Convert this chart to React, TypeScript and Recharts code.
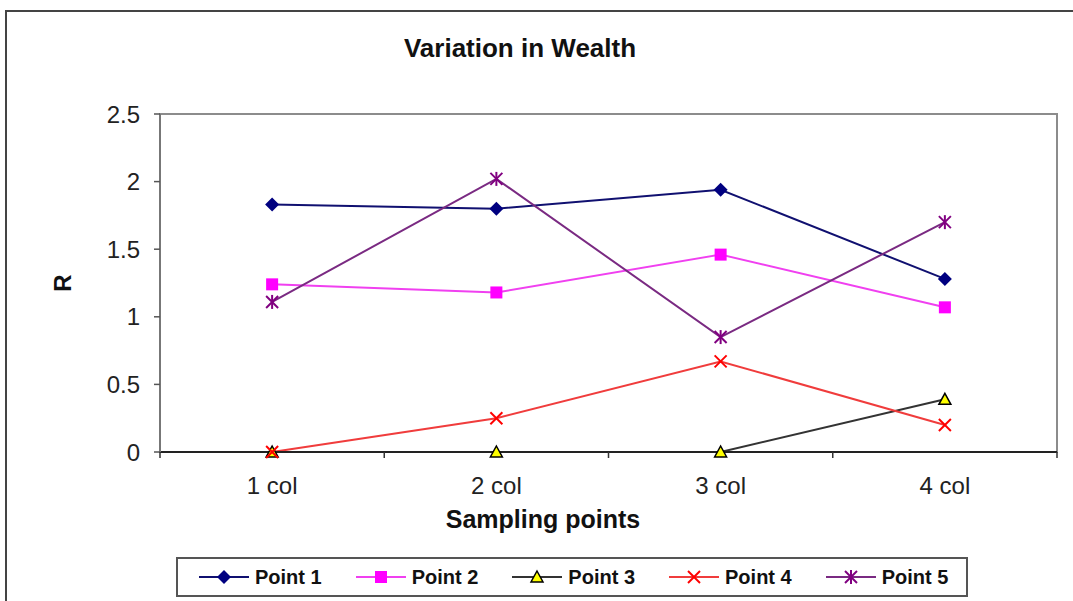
import React from "react";
import {
  LineChart,
  Line,
  XAxis,
  YAxis,
  ReferenceArea,
} from "recharts";

const categories = ["1 col", "2 col", "3 col", "4 col"];
const point1 = [1.83, 1.8, 1.94, 1.28];
const point2 = [1.24, 1.18, 1.46, 1.07];
const point3 = [0, 0, 0, 0.39];
const point4 = [0, 0.25, 0.67, 0.2];
const point5 = [1.11, 2.02, 0.85, 1.7];
const yTicks = [0, 0.5, 1, 1.5, 2, 2.5];

const FONT = "'Liberation Sans', Arial, sans-serif";

type Shape = "diamond" | "square" | "triangle" | "cross" | "star";

const series: { key: string; name: string; line: string; mark: string; shape: Shape }[] = [
  { key: "p1", name: "Point 1", line: "#101070", mark: "#000080", shape: "diamond" },
  { key: "p2", name: "Point 2", line: "#f040f0", mark: "#ff00ff", shape: "square" },
  { key: "p3", name: "Point 3", line: "#333333", mark: "#ffff00", shape: "triangle" },
  { key: "p4", name: "Point 4", line: "#f03c3c", mark: "#ff0000", shape: "cross" },
  { key: "p5", name: "Point 5", line: "#7a2a82", mark: "#800080", shape: "star" },
];

const values = [point1, point2, point3, point4, point5];

const data = categories.map((cat, i) => {
  const row: any = { cat };
  series.forEach((s, k) => (row[s.key] = values[k][i]));
  return row;
});

// marker drawn at the point that recharts hands over
function Marker({ cx, cy, shape, color }: { cx: number; cy: number; shape: Shape; color: string }) {
  if (cx == null || cy == null) return null;
  switch (shape) {
    case "diamond":
      return (
        <polygon
          points={`${cx},${cy - 7} ${cx + 7},${cy} ${cx},${cy + 7} ${cx - 7},${cy}`}
          fill={color}
        />
      );
    case "square":
      return <rect x={cx - 6} y={cy - 6} width={12} height={12} fill={color} />;
    case "triangle":
      return (
        <polygon
          points={`${cx},${cy - 6} ${cx + 6},${cy + 5} ${cx - 6},${cy + 5}`}
          fill={color}
          stroke="#000"
          strokeWidth={1.5}
        />
      );
    case "cross":
      return (
        <g stroke={color} strokeWidth={2}>
          <line x1={cx - 6} y1={cy - 6} x2={cx + 6} y2={cy + 6} />
          <line x1={cx - 6} y1={cy + 6} x2={cx + 6} y2={cy - 6} />
        </g>
      );
    default:
      return (
        <g stroke={color} strokeWidth={2}>
          <line x1={cx - 6} y1={cy - 6} x2={cx + 6} y2={cy + 6} />
          <line x1={cx - 6} y1={cy + 6} x2={cx + 6} y2={cy - 6} />
          <line x1={cx} y1={cy - 7} x2={cx} y2={cy + 7} />
        </g>
      );
  }
}

// category label at band centre, tick marks at band edges (Excel style)
const XTick = ({ x, y, payload, index }: any) => {
  const half = payload.offset || 0;
  return (
    <g>
      {index === 0 && (
        <line x1={x - half} y1={y} x2={x - half} y2={y + 6} stroke="#333" strokeWidth={1.5} />
      )}
      <line x1={x + half} y1={y} x2={x + half} y2={y + 6} stroke="#333" strokeWidth={1.5} />
      <text
        x={x}
        y={y + 42}
        textAnchor="middle"
        fontFamily={FONT}
        fontSize={24}
        fill="#222"
      >
        {payload.value}
      </text>
    </g>
  );
};

const YLabel = ({ viewBox }: any) => {
  const x = viewBox.x + 22;
  const y = viewBox.y + viewBox.height / 2;
  return (
    <text
      x={x}
      y={y}
      transform={`rotate(-90 ${x} ${y})`}
      textAnchor="middle"
      dominantBaseline="central"
      fontFamily={FONT}
      fontWeight="bold"
      fontSize={24}
      fill="#111"
    >
      R
    </text>
  );
};

const XLabel = ({ viewBox }: any) => (
  <text
    x={viewBox.x + 383}
    y={viewBox.y + 76}
    textAnchor="middle"
    fontFamily={FONT}
    fontWeight="bold"
    fontSize={25}
    fill="#111"
  >
    Sampling points
  </text>
);

function LegendSwatch({ s }: { s: (typeof series)[number] }) {
  return (
    <svg width={50} height={16} style={{ display: "block" }}>
      <line x1={0} y1={8} x2={50} y2={8} stroke={s.line} strokeWidth={2} />
      <Marker cx={25} cy={8} shape={s.shape} color={s.mark} />
    </svg>
  );
}

export default function App() {
  return (
    <div
      style={{
        position: "absolute",
        left: 0,
        top: 0,
        width: 1073,
        height: 601,
        overflow: "hidden",
        background: "#fff",
        fontFamily: FONT,
      }}
    >
      {/* outer chart frame, runs off the picture */}
      <div
        style={{
          position: "absolute",
          left: 5,
          top: 10,
          width: 1200,
          height: 700,
          border: "2px solid #444",
        }}
      />

      <div
        style={{
          position: "absolute",
          left: 0,
          top: 33,
          width: 1040,
          textAlign: "center",
          fontSize: 26,
          fontWeight: "bold",
          color: "#111",
        }}
      >
        Variation in Wealth
      </div>

      <div style={{ position: "absolute", left: 0, top: 0 }}>
        <LineChart
          width={1073}
          height={601}
          data={data}
          margin={{ top: 114, right: 16, left: 40, bottom: 59 }}
        >
          <ReferenceArea y1={0} y2={2.5} fill="none" stroke="#8c8c8c" strokeWidth={2} />
          <XAxis
            dataKey="cat"
            scale="band"
            height={90}
            tickLine={false}
            tickSize={0}
            tickMargin={0}
            interval={0}
            axisLine={{ stroke: "#222", strokeWidth: 2 }}
            tick={<XTick />}
            label={<XLabel />}
          />
          <YAxis
            width={120}
            domain={[0, 2.5]}
            ticks={yTicks}
            tickSize={6}
            tickMargin={14}
            axisLine={{ stroke: "#777", strokeWidth: 2 }}
            tickLine={{ stroke: "#555", strokeWidth: 1.5 }}
            tick={{ fontSize: 24, fill: "#222", fontFamily: FONT }}
            label={<YLabel />}
          />
          {series.map((s) => (
            <Line
              key={s.key}
              dataKey={s.key}
              name={s.name}
              type="linear"
              stroke={s.line}
              strokeWidth={2}
              isAnimationActive={false}
              dot={(p: any) => (
                <Marker key={`${s.key}-${p.index}`} cx={p.cx} cy={p.cy} shape={s.shape} color={s.mark} />
              )}
              activeDot={false}
            />
          ))}
        </LineChart>
      </div>

      {/* legend box */}
      <div
        style={{
          position: "absolute",
          left: 176,
          top: 557,
          width: 792,
          height: 40,
          border: "2px solid #555",
          boxSizing: "border-box",
          display: "flex",
          alignItems: "center",
          paddingLeft: 21,
          gap: 34,
        }}
      >
        {series.map((s) => (
          <div key={s.key} style={{ display: "flex", alignItems: "center", gap: 6 }}>
            <LegendSwatch s={s} />
            <span style={{ fontSize: 20, fontWeight: "bold", color: "#111" }}>{s.name}</span>
          </div>
        ))}
      </div>
    </div>
  );
}
